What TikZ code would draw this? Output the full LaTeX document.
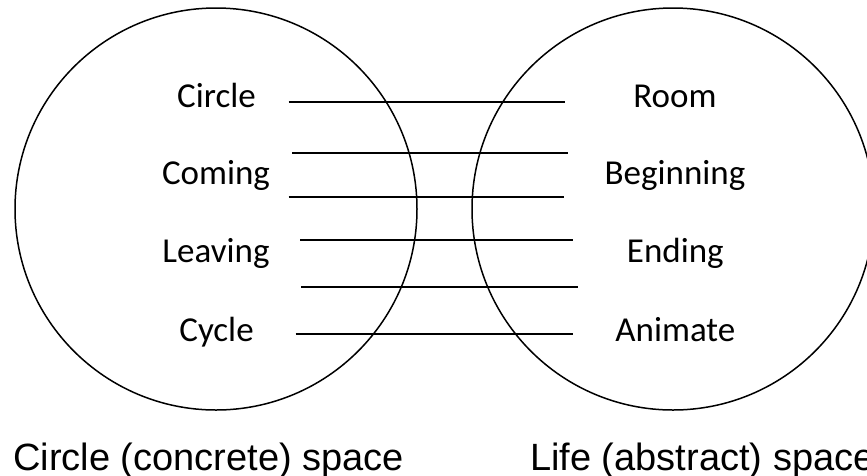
\documentclass[tikz,border=0pt]{standalone}
\usepackage{fontspec}
\setmainfont{Carlito}
\newfontfamily\arialfont{Liberation Sans}
\begin{document}
\begin{tikzpicture}[x=1pt,y=-1pt,
  ring/.style={draw=black,line width=1.5pt},
  link/.style={draw=black,line width=1.7pt},
  word/.style={anchor=base,inner sep=0pt,font=\fontsize{35}{40}\selectfont},
  caption/.style={anchor=base west,inner sep=0pt,font=\arialfont\fontsize{38}{42}\selectfont}]
\useasboundingbox (0,0) rectangle (867,475);
\begin{scope}
\clip (0,0) rectangle (867,475);
\draw[ring] (216,209) circle (201);
\draw[ring] (673,209) circle (201);
\end{scope}
% connecting lines
\coordinate (a1) at (288.7,101.7); \coordinate (b1) at (565,101.7);
\coordinate (a2) at (292.3,153.3); \coordinate (b2) at (568.3,153.3);
\coordinate (a3) at (288.7,197.3); \coordinate (b3) at (564.3,197.3);
\coordinate (a4) at (300,240);     \coordinate (b4) at (572.7,240);
\coordinate (a5) at (301,287.3);   \coordinate (b5) at (577.7,287.3);
\coordinate (a6) at (295.7,334);   \coordinate (b6) at (572.7,334);
\foreach \i in {1,...,6} \draw[link] (a\i) -- (b\i);
% left words
\node[word] (circle) at (216.5,107) {Circle};
\node[word] (coming) at (216,184.5) {Coming};
\node[word] (leaving) at (216,262.5) {Leaving};
\node[word] (cycle) at (216.5,341) {Cycle};
% right words
\node[word] (room) at (675,107) {Room};
\node[word] (beginning) at (675,184.5) {Beginning};
\node[word] (ending) at (675.3,262.5) {Ending};
\node[word] (animate) at (675.3,341) {Animate};
% captions
\node[caption] (capL) at (13,470) {Circle (concrete) space};
\node[caption] (capR) at (530,470) {Life (abstract) space};
\end{tikzpicture}
\end{document}
